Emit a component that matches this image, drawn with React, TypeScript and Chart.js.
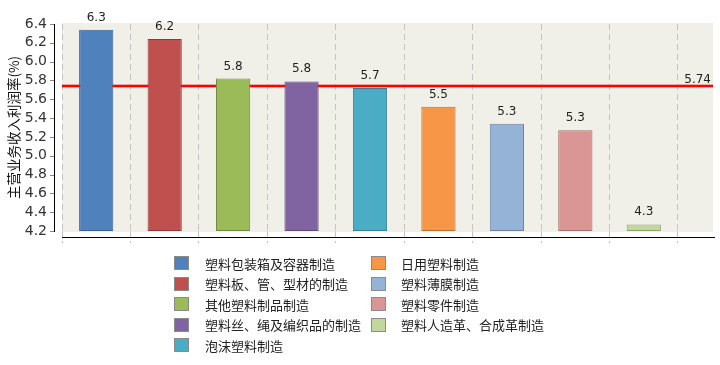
import React, { useEffect, useRef } from 'react';
import { Chart, registerables } from 'chart.js';

Chart.register(...registerables);

const categories = [
  '塑料包装箱及容器制造',
  '塑料板、管、型材的制造',
  '其他塑料制品制造',
  '塑料丝、绳及编织品的制造',
  '泡沫塑料制造',
  '日用塑料制造',
  '塑料薄膜制造',
  '塑料零件制造',
  '塑料人造革、合成革制造',
];
const values = [6.34, 6.24, 5.82, 5.79, 5.72, 5.52, 5.34, 5.27, 4.27];
const averageValue = 5.74;
const averageLabel = '5.74';
const yTicks = [4.2, 4.4, 4.6, 4.8, 5.0, 5.2, 5.4, 5.6, 5.8, 6.0, 6.2, 6.4];
const yTitle = '主营业务收入利润率(%)';
const barColors = ['#4F81BD', '#C0504D', '#9BBB59', '#8064A2', '#4BACC6', '#F79646', '#95B3D7', '#D99694', '#C3D69B'];
const borderColors = ['#3A6190', '#8F3B39', '#718A41', '#5D4A77', '#357F92', '#B66E33', '#6D849F', '#A06E6C', '#8FA070'];

const FONT = '"DejaVu Sans", "Noto Sans CJK SC", sans-serif';
const CJK_FONT = '"Noto Sans CJK SC", "DejaVu Sans", sans-serif';
const PLOT_RIGHT = 713;

const decor = {
  id: 'decor',
  beforeDraw(chart: any) {
    const { ctx, chartArea: a } = chart;
    ctx.save();
    ctx.fillStyle = '#F0F0E8';
    ctx.fillRect(a.left, a.top - 1, PLOT_RIGHT - a.left, a.bottom - a.top + 2);
    ctx.restore();
  },
  beforeDatasetsDraw(chart: any) {
    const { ctx, chartArea: a } = chart;
    const y = chart.scales.y;
    ctx.save();
    ctx.setLineDash([]);
    const py = Math.round(y.getPixelForValue(averageValue));
    ctx.fillStyle = 'rgba(255,0,0,0.3)';
    ctx.fillRect(a.left, py - 2, PLOT_RIGHT - a.left, 4);
    ctx.fillStyle = '#FF0000';
    ctx.fillRect(a.left, py - 1, PLOT_RIGHT - a.left, 2);
    ctx.fillStyle = '#222';
    ctx.font = '12px ' + FONT;
    ctx.textAlign = 'right';
    ctx.textBaseline = 'alphabetic';
    ctx.fillText(averageLabel, PLOT_RIGHT - 2, py - 3);
    ctx.restore();
  },
  afterDraw(chart: any) {
    const { ctx, chartArea: a } = chart;
    const y = chart.scales.y;
    const meta = chart.getDatasetMeta(0);
    ctx.save();
    ctx.setLineDash([]);
    ctx.globalAlpha = 1;
    ctx.globalCompositeOperation = 'source-over';
    // y axis line and tick marks
    const axTop = Math.round(y.getPixelForValue(yTicks[yTicks.length - 1]));
    const axBottom = Math.round(y.getPixelForValue(yTicks[0]));
    ctx.fillStyle = '#000000';
    ctx.fillRect(54, axTop, 1, axBottom - axTop + 1);
    ctx.fillStyle = '#888888';
    yTicks.forEach((v) => {
      const p = Math.round(y.getPixelForValue(v));
      ctx.fillRect(50, p, 4, 1);
    });
    // x axis line
    ctx.fillStyle = '#000000';
    ctx.fillRect(a.left, Math.round(a.bottom) + 6, PLOT_RIGHT + 2 - a.left, 1);

    // value labels
    ctx.fillStyle = '#222';
    ctx.font = '12px ' + FONT;
    ctx.textAlign = 'center';
    ctx.textBaseline = 'alphabetic';
    meta.data.forEach((bar: any, i: number) => {
      ctx.fillText(values[i].toFixed(1), bar.x, bar.y - 9);
    });
    // legend
    ctx.font = '13px ' + CJK_FONT;
    ctx.textAlign = 'left';
    ctx.textBaseline = 'middle';
    categories.forEach((c, i) => {
      const col = i < 5 ? 0 : 1;
      const row = i % 5;
      const sx = col === 0 ? 174 : 371;
      const tx = col === 0 ? 205 : 401;
      const cy = 263 + row * 20.5;
      const top = Math.round(cy - 7);
      ctx.fillStyle = '#8A8A8A';
      ctx.fillRect(sx, top, 15, 14);
      ctx.fillStyle = barColors[i];
      ctx.fillRect(sx + 1, top + 1, 13, 12);
      ctx.fillStyle = '#222';
      ctx.fillText(c, tx, cy + 1);
    });
    ctx.restore();
  },
};

export default function App() {
  const ref = useRef<HTMLCanvasElement | null>(null);
  useEffect(() => {
    document.body.style.margin = '0';
    const canvas = ref.current;
    if (!canvas) return;
    const chart = new Chart(canvas, {
      type: 'bar',
      data: {
        labels: categories,
        datasets: [
          {
            data: values,
            base: yTicks[0],
            backgroundColor: barColors,
            borderColor: borderColors,
            borderWidth: 1,
            borderSkipped: false,
            categoryPercentage: 1,
            barPercentage: 0.5,
          } as any,
        ],
      },
      options: {
        responsive: false,
        animation: false,
        devicePixelRatio: 1,
        layout: { padding: { left: 0, top: 24, right: 720 - 678, bottom: 122 } },
        plugins: { legend: { display: false }, tooltip: { enabled: false } },
        scales: {
          x: {
            grid: {
              color: '#C4C4C4',
              lineWidth: 1,
              drawTicks: true,
              tickLength: 12,
              tickBorderDash: [6, 4],
              offset: true,
            },
            border: { display: false, dash: [6, 4] },
            ticks: { display: false },
            afterFit: (s: any) => {
              s.height = 12;
            },
          },
          y: {
            min: 4.2,
            max: 6.4,
            grid: { display: false, drawTicks: false },
            border: { display: false },
            afterBuildTicks: (s: any) => {
              s.ticks = yTicks.map((v) => ({ value: v }));
            },
            ticks: {
              autoSkip: false,
              padding: 15,
              color: '#333',
              font: { size: 14, family: FONT },
              callback: (v: any) => Number(v).toFixed(1),
            },
            title: {
              display: true,
              text: yTitle,
              color: '#111',
              font: { size: 13.5, family: CJK_FONT },
              padding: { top: 6, bottom: 0 },
            },
            afterFit: (s: any) => {
              s.width = 62;
            },
          },
        },
      } as any,
      plugins: [decor],
    });
    return () => chart.destroy();
  }, []);
  return <canvas ref={ref} width={720} height={365} style={{ display: 'block', width: 720, height: 365 }} />;
}
